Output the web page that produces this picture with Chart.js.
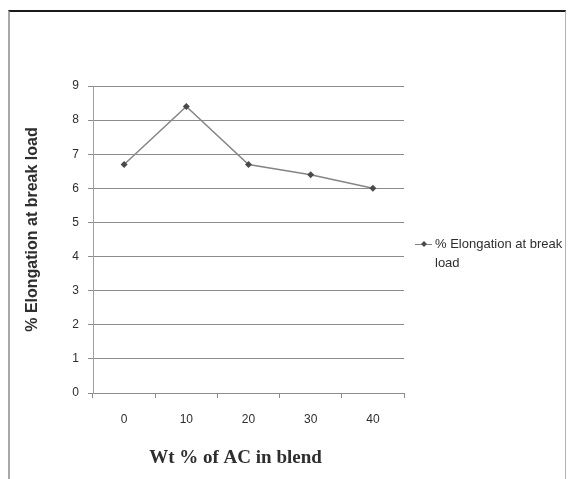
<!DOCTYPE html>
<html>
<head>
<meta charset="utf-8">
<script src="https://cdn.jsdelivr.net/npm/chart.js@4/dist/chart.umd.min.js"></script>
<style>
  html, body { margin: 0; padding: 0; background: #fff; }
  #wrap { position: relative; width: 569px; height: 479px; overflow: hidden; }
  #frame {
    position: absolute; left: 8px; top: 10px; width: 555px; height: 480px;
    border-top: 2px solid #1a1a1a; border-left: 2px solid #a8a8a8; border-right: 1px solid #b4b4b4;
  }
  canvas { position: absolute; left: 0; top: 0; }
</style>
</head>
<body>
<div id="wrap">
  <div id="frame"></div>
  <canvas id="chart" width="569" height="479"></canvas>
</div>
<script>
// Blend composition (wt % of AC) and measured elongation at break
const categories = ['0', '10', '20', '30', '40'];
const elongation = [6.7, 8.4, 6.7, 6.4, 6.0];
const yTickValues = [0, 1, 2, 3, 4, 5, 6, 7, 8, 9];
const seriesName = '% Elongation at break load';
const xAxisTitle = 'Wt % of AC in blend';
const yAxisTitle = '% Elongation at break load';

const gridColor = '#8c8c8c';
const textColor = '#2e2e2e';

// Axis titles and the side legend (with wrapped text)
const captions = {
  id: 'captions',
  afterDraw(chart) {
    const { ctx, chartArea: a } = chart;
    ctx.save();
    ctx.fillStyle = textColor;
    ctx.textAlign = 'center';
    ctx.textBaseline = 'middle';

    // y-axis title
    ctx.save();
    ctx.translate(a.left - 60, (a.top + a.bottom) / 2 - 10);
    ctx.rotate(-Math.PI / 2);
    ctx.font = 'bold 16px "Liberation Sans", Arial, sans-serif';
    ctx.fillText(yAxisTitle, 0, 0);
    ctx.restore();

    // x-axis title
    ctx.font = 'bold 19px "Liberation Serif", "Times New Roman", serif';
    ctx.fillText(xAxisTitle, (a.left + a.right) / 2 - 13, a.bottom + 65);

    // legend
    const ds = chart.data.datasets[0];
    const lx = a.right + 11, ly = 244;
    ctx.strokeStyle = ds.borderColor;
    ctx.lineWidth = 1;
    ctx.beginPath();
    ctx.moveTo(lx, ly + 0.5);
    ctx.lineTo(lx + 17, ly + 0.5);
    ctx.stroke();
    ctx.fillStyle = ds.pointBackgroundColor;
    const cx = lx + 9, r = 3;
    ctx.beginPath();
    ctx.moveTo(cx, ly - r); ctx.lineTo(cx + r, ly); ctx.lineTo(cx, ly + r); ctx.lineTo(cx - r, ly);
    ctx.closePath();
    ctx.fill();

    ctx.fillStyle = textColor;
    ctx.textAlign = 'left';
    ctx.font = '13px "Liberation Sans", Arial, sans-serif';
    const maxW = chart.width - (lx + 20) - 4;
    const words = ds.label.split(' ');
    const lines = [];
    let cur = '';
    for (const w of words) {
      const t = cur ? cur + ' ' + w : w;
      if (ctx.measureText(t).width > maxW && cur) { lines.push(cur); cur = w; } else { cur = t; }
    }
    if (cur) lines.push(cur);
    lines.forEach((ln, i) => ctx.fillText(ln, lx + 20, ly + i * 19));
    ctx.restore();
  }
};

new Chart(document.getElementById('chart'), {
  type: 'line',
  data: {
    labels: categories,
    datasets: [{
      label: seriesName,
      data: elongation,
      borderColor: '#858585',
      borderWidth: 1.5,
      tension: 0,
      pointStyle: 'rectRot',
      pointRadius: 3.5,
      pointBackgroundColor: '#4a4a4a',
      pointBorderColor: '#4a4a4a',
      pointBorderWidth: 0
    }]
  },
  options: {
    responsive: false,
    animation: false,
    layout: { padding: { left: 0, top: 86, right: 165, bottom: 0 } },
    plugins: { legend: { display: false }, tooltip: { enabled: false } },
    scales: {
      x: {
        type: 'category',
        offset: true,
        grid: { offset: true, drawOnChartArea: false, color: gridColor, tickLength: 5 },
        border: { color: gridColor },
        ticks: { color: textColor, font: { family: '"Liberation Sans", Arial, sans-serif', size: 12 }, padding: 14, maxRotation: 0 },
        afterFit(scale) { scale.height = 86; }
      },
      y: {
        min: 0,
        max: 9,
        afterBuildTicks(scale) { scale.ticks = yTickValues.map(v => ({ value: v })); },
        grid: { color: gridColor, tickLength: 5 },
        border: { color: '#a0a0a0' },
        ticks: { color: textColor, font: { family: '"Liberation Sans", Arial, sans-serif', size: 12 }, padding: 9 },
        afterFit(scale) { scale.width = 93; }
      }
    }
  },
  plugins: [captions]
});
</script>
</body>
</html>
